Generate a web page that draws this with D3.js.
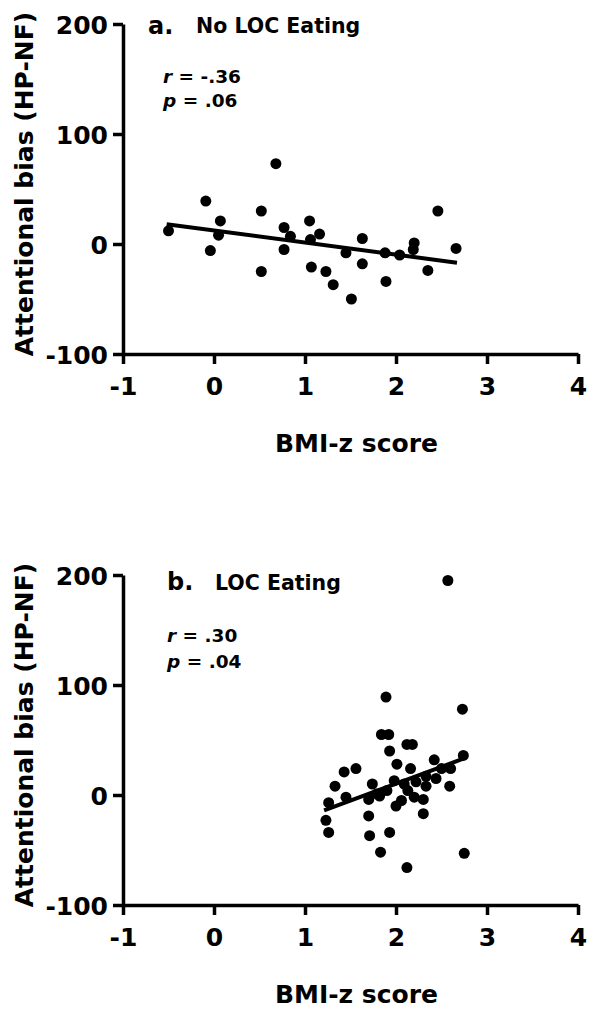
<!DOCTYPE html>
<html>
<head>
<meta charset="utf-8">
<script src="https://cdn.jsdelivr.net/npm/d3@7"></script>
<style>
  body { margin: 0; background: #fff; }
  svg { display: block; }
  text { font-family: "DejaVu Sans", sans-serif; font-weight: bold; fill: #000; }
</style>
</head>
<body>
<svg id="chart" width="595" height="1013"></svg>
<script>
// ---------- data ----------
const xTicks = [-1, 0, 1, 2, 3, 4];
const yTicks = [-100, 0, 100, 200];
const xTitle = "BMI-z score";
const yTitle = "Attentional bias (HP-NF)";

// Panel a: No LOC Eating
const aLetter = "a.";
const aTitle = "No LOC Eating";
const aR = "-.36";
const aP = ".06";
const aBMI = [-0.50, -0.09, 0.07, 0.05, -0.04, 0.68, 0.52, 0.52, 0.77, 0.84, 0.77,
              1.05, 1.06, 1.07, 1.16, 1.23, 1.31, 1.45, 1.51, 1.63, 1.63, 1.88,
              1.89, 2.04, 2.20, 2.19, 2.35, 2.46, 2.66];
const aBias = [12, 39, 21, 8, -6, 73, 30, -25, 15, 7, -5,
               21, 4, -21, 9, -25, -37, -8, -50, 5, -18, -8,
               -34, -10, 1, -5, -24, 30, -4];
const aFitX = [-0.52, 2.67];
const aFitY = [18, -17];

// Panel b: LOC Eating
const bLetter = "b.";
const bTitle = "LOC Eating";
const bR = ".30";
const bP = ".04";
const bBMI = [1.89, 2.73, 1.84, 1.92, 1.93, 2.12, 2.18, 2.74, 2.42, 2.01, 2.16,
              1.56, 1.43, 2.60, 2.50, 2.44, 2.33, 2.22, 2.33, 2.59, 1.98, 2.09,
              1.74, 1.33, 1.90, 2.13, 1.79, 1.45, 1.82, 1.70, 2.20, 2.30, 2.06,
              2.00, 1.26, 1.70, 2.30, 1.23, 1.26, 1.71, 1.93, 1.83, 2.75, 2.12, 2.57];
const bBias = [89, 78, 55, 55, 40, 46, 46, 36, 32, 28, 24,
               24, 21, 24, 24, 15, 17, 12, 8, 8, 13, 10,
               10, 8, 4, 4, 1, -2, -1, -4, -2, -4, -5,
               -10, -7, -19, -17, -23, -34, -37, -34, -52, -53, -66, 195];
const bFitX = [1.21, 2.74];
const bFitY = [-14, 33];

// ---------- drawing ----------
const svg = d3.select("#chart");
const fmt = d => String(d);

const panels = [
  { letter: aLetter, title: aTitle, r: aR, p: aP, xs: aBMI, ys: aBias, fx: aFitX, fy: aFitY,
    yRange: [354, 24], letterPos: [148, 34], titlePos: [196, 33], statPos: [163, 83, 107] },
  { letter: bLetter, title: bTitle, r: bR, p: bP, xs: bBMI, ys: bBias, fx: bFitX, fy: bFitY,
    yRange: [905, 575], letterPos: [167, 590], titlePos: [215, 590], statPos: [167, 642, 668] }
];

panels.forEach(P => {
  const x = d3.scaleLinear().domain([-1, 4]).range([123, 578]);
  const y = d3.scaleLinear().domain([-100, 200]).range(P.yRange);
  const g = svg.append("g");
  const y0 = y(-100);

  // y axis
  const ya = g.append("g").attr("transform", `translate(${x(-1)},0)`)
    .call(d3.axisLeft(y).tickValues(yTicks).tickFormat(fmt).tickSize(10).tickSizeOuter(0).tickPadding(5));
  // x axis
  const xa = g.append("g").attr("transform", `translate(0,${y0})`)
    .call(d3.axisBottom(x).tickValues(xTicks).tickFormat(fmt).tickSize(10).tickSizeOuter(0).tickPadding(6));
  [ya, xa].forEach(a => {
    a.select(".domain").attr("stroke", "#000").attr("stroke-width", 3.5);
    a.selectAll(".tick line").attr("stroke", "#000").attr("stroke-width", 3.5);
    a.selectAll(".tick text").style("font-family", "DejaVu Sans").style("font-weight", "bold")
      .style("font-size", "25px").attr("fill", "#000");
  });
  ya.selectAll(".tick text").attr("dy", "0.36em");
  xa.selectAll(".tick text").attr("dy", null).attr("y", 41);

  // axis titles
  g.append("text").attr("x", (x(-1) + x(4)) / 2 + 6).attr("y", y0 + 98)
    .attr("text-anchor", "middle").style("font-size", "25px").text(xTitle);
  const ymid = (y(-100) + y(200)) / 2 - 5;
  g.append("text").attr("transform", `translate(33,${ymid}) rotate(-90)`)
    .attr("text-anchor", "middle").style("font-size", "25px").text(yTitle);

  // panel titles
  g.append("text").attr("x", P.letterPos[0]).attr("y", P.letterPos[1])
    .style("font-size", "24px").text(P.letter);
  g.append("text").attr("x", P.titlePos[0]).attr("y", P.titlePos[1])
    .style("font-size", "20.5px").text(P.title);

  // stats
  const t1 = g.append("text").attr("x", P.statPos[0]).attr("y", P.statPos[1]).style("font-size", "18.5px");
  t1.append("tspan").style("font-style", "italic").text("r");
  t1.append("tspan").text(" = " + P.r);
  const t2 = g.append("text").attr("x", P.statPos[0]).attr("y", P.statPos[2]).style("font-size", "18.5px");
  t2.append("tspan").style("font-style", "italic").text("p");
  t2.append("tspan").text(" = " + P.p);

  // points
  g.append("g").selectAll("circle").data(P.xs.map((v, i) => [v, P.ys[i]])).join("circle")
    .attr("cx", d => x(d[0])).attr("cy", d => y(d[1])).attr("r", 5.5).attr("fill", "#000");

  // regression line
  g.append("line")
    .attr("x1", x(P.fx[0])).attr("y1", y(P.fy[0]))
    .attr("x2", x(P.fx[1])).attr("y2", y(P.fy[1]))
    .attr("stroke", "#000").attr("stroke-width", 4);
});
</script>
</body>
</html>
